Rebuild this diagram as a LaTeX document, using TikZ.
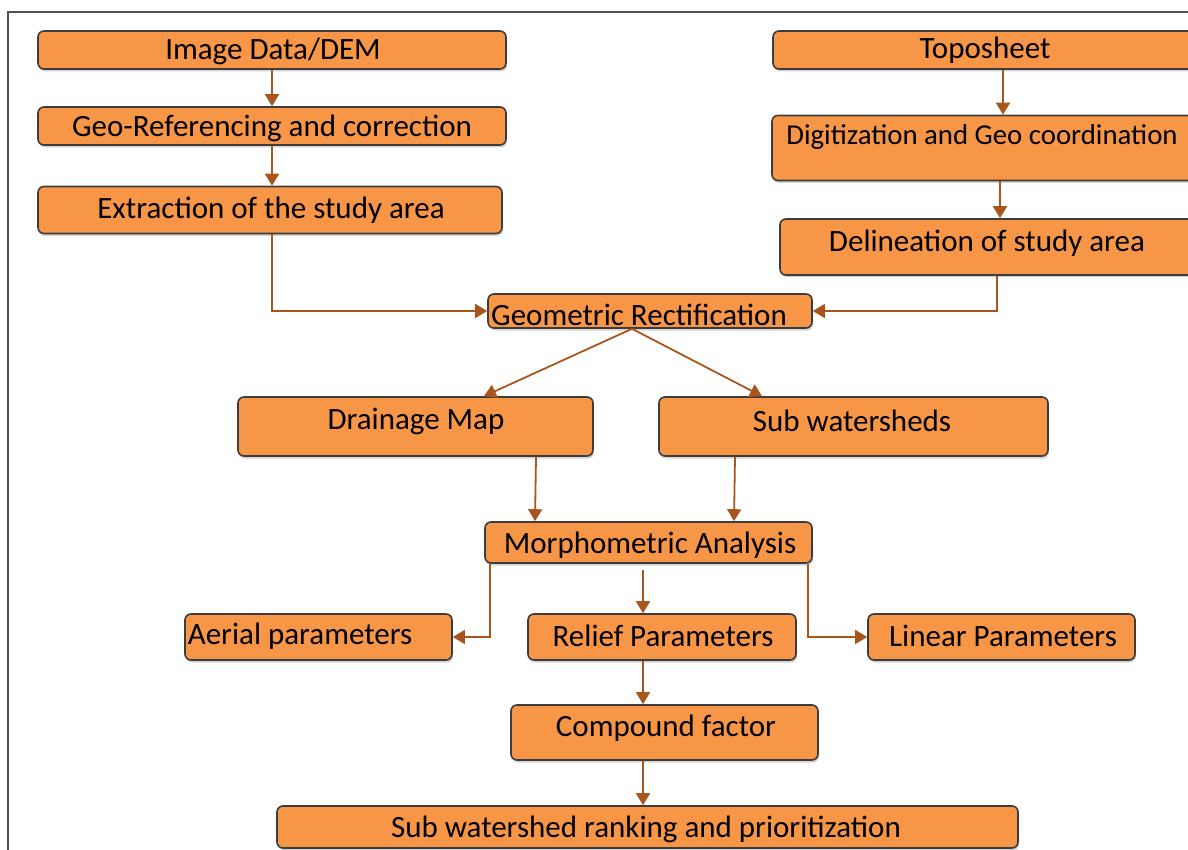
\documentclass[tikz,border=0pt]{standalone}
\usepackage{fontspec}
\setmainfont{Carlito}
\usetikzlibrary{arrows.meta,shadows,calc}
\definecolor{boxfill}{HTML}{F79646}
\definecolor{boxline}{HTML}{3C3C3C}
\definecolor{arrc}{HTML}{A9561C}
\definecolor{framec}{HTML}{505050}
\tikzset{
  box/.style={draw=boxline, line width=1.6pt, rounded corners=6pt, fill=boxfill, inner sep=0pt,
    drop shadow={opacity=0.35, shadow xshift=1pt, shadow yshift=-2.5pt}},
  txt/.style={inner sep=0pt, font=\fontsize{31}{36}\selectfont, text=black},
  arr/.style={draw=arrc, line width=1.8pt, -{Triangle[length=12pt,width=14pt]}},
}
\begin{document}
\begin{tikzpicture}[x=1pt,y=-1pt]
\useasboundingbox (0,0) rectangle (1188,850);
\begin{scope}
\clip (0,0) rectangle (1188,850);
\draw[framec, line width=1.5pt] (8,850) -- (8,12) -- (1190,12);
% boxes
\node[box, minimum width=468pt, minimum height=38pt] (img) at (272,50) {};
\node[box, minimum width=468pt, minimum height=38pt] (geo) at (272,126) {};
\node[box, minimum width=464pt, minimum height=47pt] (ext) at (270,210) {};
\node[box, minimum width=437pt, minimum height=38pt] (topo) at (991.5,50) {};
\node[box, minimum width=438pt, minimum height=65pt] (dig) at (991,148) {};
\node[box, minimum width=430pt, minimum height=56pt] (del) at (995,247) {};
\node[box, minimum width=324pt, minimum height=34pt] (geom) at (650,311) {};
\node[box, minimum width=355pt, minimum height=59pt] (drain) at (415.5,426.5) {};
\node[box, minimum width=389pt, minimum height=59pt] (subws) at (853.5,426.5) {};
\node[box, minimum width=327pt, minimum height=41pt] (morph) at (648.5,542.5) {};
\node[box, minimum width=267pt, minimum height=46pt] (aerial) at (318.5,637) {};
\node[box, minimum width=268pt, minimum height=46pt] (relief) at (662,637) {};
\node[box, minimum width=267pt, minimum height=46pt] (linear) at (1001.5,637) {};
\node[box, minimum width=307pt, minimum height=55pt] (comp) at (664.5,732.5) {};
\node[box, minimum width=741pt, minimum height=42pt] (rank) at (647.5,827) {};
% texts
\node[txt] (t-img) at (273,51) {Image Data/DEM};
\node[txt] (t-geo) at (272,128) {Geo-Referencing and correction};
\node[txt] (t-ext) at (271,210) {Extraction of the study area};
\node[txt] (t-topo) at (985,50) {Toposheet};
\node[txt, font=\fontsize{28.8}{34}\selectfont] (t-dig) at (982,137) {Digitization and Geo coordination};
\node[txt] (t-del) at (987,243) {Delineation of study area};
\node[txt] (t-geom) at (639,315) {Geometric Rectification};
\node[txt] (t-drain) at (416,421) {Drainage Map};
\node[txt] (t-subws) at (852,421) {Sub watersheds};
\node[txt] (t-morph) at (650,545) {Morphometric Analysis};
\node[txt] (t-aerial) at (300,636) {Aerial parameters};
\node[txt] (t-relief) at (663,636) {Relief Parameters};
\node[txt] (t-linear) at (1003,636) {Linear Parameters};
\node[txt] (t-comp) at (666,728) {Compound factor};
\node[txt] (t-rank) at (646,829) {Sub watershed ranking and prioritization};
% connectors
\draw[arr] (img.south) -- (geo.north);
\draw[arr] (geo.south) -- (geo.south |- ext.north);
\draw[arr] (ext.south -| 272,0) |- (geom.west);
\draw[arr] (topo.south -| 1003,0) -- (dig.north -| 1003,0);
\draw[arr] (dig.south -| 1000,0) -- (del.north -| 1000,0);
\draw[arr] (del.south -| 997,0) |- (geom.east);
\draw[arr] (geom.south -| 632,0) -- (drain.north -| 484,0);
\draw[arr] (geom.south -| 632,0) -- (subws.north -| 762,0);
\draw[arr] (drain.south -| 536,0) -- (morph.north -| 535,0);
\draw[arr] (subws.south -| 735,0) -- (morph.north -| 734,0);
\draw[arr] (morph.south -| 490,0) |- (aerial.east);
\draw[arr] ($(morph.south -| 643,0)+(0,6)$) -- (relief.north -| 643,0);
\draw[arr] (morph.south -| 808,0) |- (linear.west);
\draw[arr] (relief.south -| 643,0) -- (comp.north -| 643,0);
\draw[arr] (comp.south -| 643,0) -- (rank.north -| 643,0);
\end{scope}
\end{tikzpicture}
\end{document}
